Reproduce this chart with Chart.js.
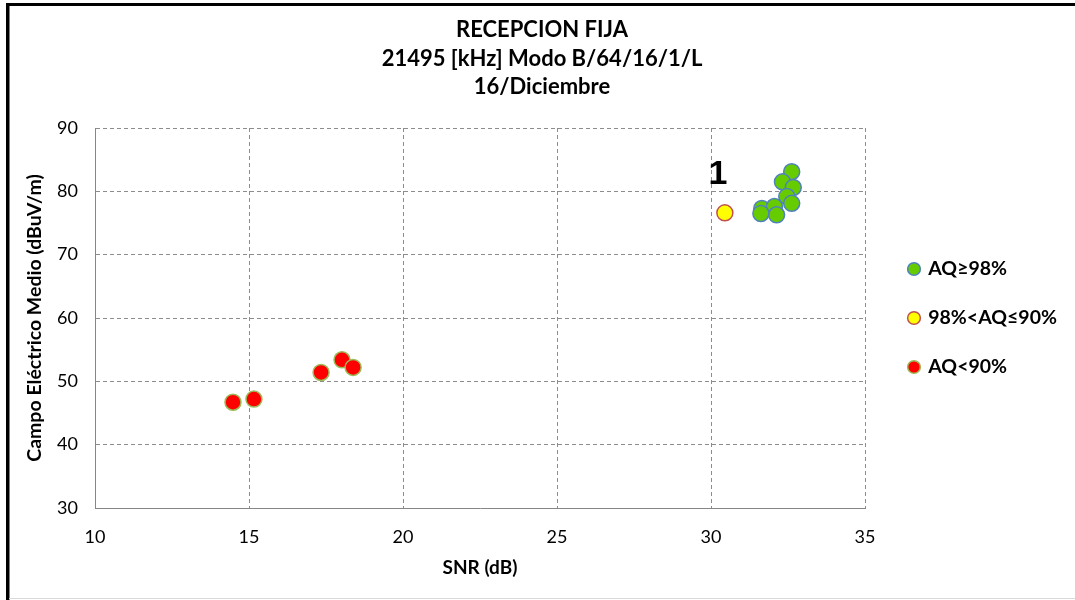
<!DOCTYPE html>
<html>
<head>
<meta charset="utf-8">
<script src="https://cdn.jsdelivr.net/npm/chart.js@4"></script>
<style>
  html, body { margin: 0; padding: 0; background: #fff; }
</style>
</head>
<body>
<canvas id="myChart" width="1075" height="600"></canvas>
<script>
'use strict';
const titleLines = ['RECEPCION FIJA', '21495 [kHz] Modo B/64/16/1/L', '16/Diciembre'];
const seriesLabels = ['AQ≥98%', '98%<AQ≤90%', 'AQ<90%'];

// SNR (dB) / campo medio (dBuV/m) por grupo de calidad
const snrGood = [32.62, 32.32, 32.67, 32.46, 32.62, 31.65, 32.06, 32.13, 31.62];
const fieldGood = [83.1, 81.5, 80.6, 79.2, 78.1, 77.3, 77.6, 76.3, 76.5];
const snrMid = [30.45];
const fieldMid = [76.6];
const snrLow = [14.48, 15.16, 17.34, 18.02, 18.38];
const fieldLow = [46.7, 47.2, 51.4, 53.4, 52.2];
const midLabels = ['1'];

const xTicks = { min: 10, max: 35, step: 5 };
const yTicks = { min: 30, max: 90, step: 10 };

function toPoints(xs, ys) {
    return xs.map((x, i) => ({ x: x, y: ys[i] }));
}

const frame = {
    id: 'frame',
    beforeInit(chart) {
        // reserve a fixed width for the legend column
        const fit = chart.legend.fit;
        chart.legend.fit = function () {
            fit.call(this);
            this.width = 210;
        };
    },
    afterLayout(chart) {
        chart.legend.left += 15;
        chart.legend.right += 15;
    },
    beforeDraw(chart) {
        const ctx = chart.ctx;
        ctx.save();
        ctx.fillStyle = '#fff';
        ctx.fillRect(0, 0, chart.width, chart.height);
        ctx.fillStyle = '#000';
        ctx.fillRect(6, 3, chart.width - 6, 3);
        ctx.fillRect(6, 3, 3.5, chart.height - 3);
        ctx.fillStyle = '#d9d9d9';
        ctx.fillRect(9, chart.height - 2, chart.width - 9, 1);
        ctx.restore();
    },
    afterDatasetsDraw(chart) {
        const ctx = chart.ctx;
        const meta = chart.getDatasetMeta(1);
        ctx.save();
        ctx.font = 'bold 34px "Liberation Sans", Arial';
        ctx.fillStyle = '#000';
        ctx.textAlign = 'center';
        ctx.textBaseline = 'middle';
        meta.data.forEach((pt, i) => {
            ctx.fillText(midLabels[i], pt.x - 7, pt.y - 38);
        });
        ctx.restore();
    }
};

const ctx = document.getElementById('myChart').getContext('2d');
new Chart(ctx, {
    type: 'scatter',
    data: {
        datasets: [{
            label: seriesLabels[0],
            data: toPoints(snrGood, fieldGood),
            backgroundColor: '#66CC00',
            borderColor: '#4F81BD',
            borderWidth: 1.5,
            pointRadius: 8
        }, {
            label: seriesLabels[1],
            data: toPoints(snrMid, fieldMid),
            backgroundColor: '#FFFF00',
            borderColor: '#C0504D',
            borderWidth: 1.5,
            pointRadius: 8
        }, {
            label: seriesLabels[2],
            data: toPoints(snrLow, fieldLow),
            backgroundColor: '#FF0000',
            borderColor: '#9BBB59',
            borderWidth: 1.5,
            pointRadius: 8
        }]
    },
    options: {
        responsive: false,
        animation: false,
        devicePixelRatio: 1,
        layout: { padding: { left: 9, right: 0, top: 0, bottom: 0 } },
        plugins: {
            tooltip: { enabled: false },
            title: {
                display: true,
                text: titleLines,
                color: '#000',
                font: { family: 'Lato', size: 22, weight: 'bold', lineHeight: 1.3 },
                padding: { top: 15.7, bottom: 26.5 }
            },
            legend: {
                position: 'right',
                fullSize: false,
                labels: {
                    usePointStyle: true,
                    pointStyle: 'circle',
                    boxWidth: 9,
                    boxHeight: 9,
                    padding: 29.5,
                    color: '#000',
                    font: { family: 'Lato', size: 19.5, weight: 'bold' }
                }
            }
        },
        scales: {
            x: {
                type: 'linear',
                min: xTicks.min,
                max: xTicks.max,
                afterFit(scale) { scale.height = 92; },
                ticks: {
                    stepSize: xTicks.step,
                    padding: 18,
                    color: '#000',
                    font: { family: 'Lato', size: 18 }
                },
                grid: { color: '#8c8c8c', drawTicks: false },
                border: { color: '#868686', width: 1, dash: [4, 3] },
                title: {
                    display: true,
                    text: 'SNR (dB)',
                    color: '#000',
                    font: { family: 'Lato', size: 19, weight: 'bold' },
                    padding: { top: 0, bottom: 20.6 }
                }
            },
            y: {
                type: 'linear',
                min: yTicks.min,
                max: yTicks.max,
                afterFit(scale) { scale.width = 86; },
                ticks: {
                    stepSize: yTicks.step,
                    padding: 17,
                    color: '#000',
                    font: { family: 'Lato', size: 18 }
                },
                grid: { color: '#8c8c8c', drawTicks: false },
                border: { color: '#868686', width: 1, dash: [4, 3] },
                title: {
                    display: true,
                    text: 'Campo Eléctrico Medio (dBuV/m)',
                    color: '#000',
                    font: { family: 'Lato', size: 19.5, weight: 'bold' },
                    padding: { top: 14.3, bottom: 0 }
                }
            }
        }
    },
    plugins: [frame]
});
</script>
</body>
</html>
